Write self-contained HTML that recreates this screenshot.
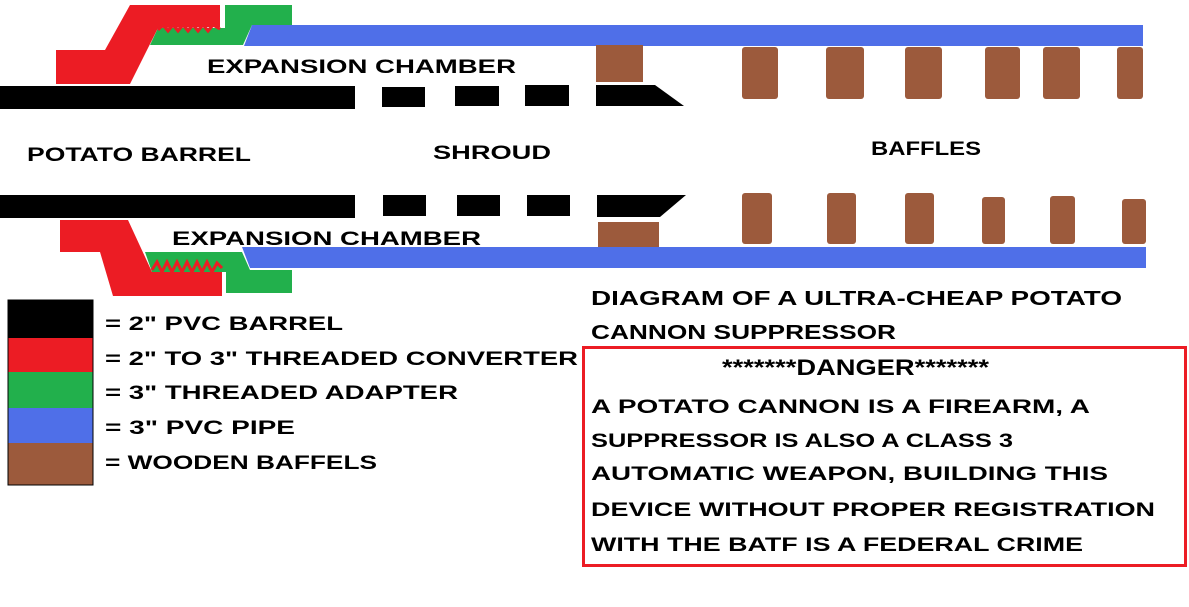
<!DOCTYPE html>
<html><head><style>
html,body{margin:0;padding:0;background:#fff;}
svg text{font-family:"Liberation Sans",sans-serif;font-weight:bold;text-transform:uppercase;fill:#000;}
</style></head><body>
<svg width="1189" height="602" viewBox="0 0 1189 602" xmlns="http://www.w3.org/2000/svg">
<!-- top assembly -->
<polygon points="252,25 1143,25 1143,46 244,46" fill="#4f6fe8"/>
<polygon points="225,5 292,5 292,25 252,25 243,45 150,45 158,28 225,28" fill="#22b04c"/>
<polygon points="56,50 105,50 130,5 220,5 220,27 158,28 130,84 56,84" fill="#ec1c24"/>
<polyline points="158,30 163,25 168,31 173,25 178,31 183,25 188,31 193,25 198,31 203,25 208,31 213,25 220,29" fill="none" stroke="#ec1c24" stroke-width="3"/>
<rect x="596" y="45" width="47" height="37" fill="#9c5a3c"/>
<rect x="742" y="47" width="36" height="52" rx="3" fill="#9c5a3c"/>
<rect x="826" y="47" width="38" height="52" rx="3" fill="#9c5a3c"/>
<rect x="905" y="47" width="37" height="52" rx="3" fill="#9c5a3c"/>
<rect x="985" y="47" width="35" height="52" rx="3" fill="#9c5a3c"/>
<rect x="1043" y="47" width="37" height="52" rx="3" fill="#9c5a3c"/>
<rect x="1117" y="47" width="26" height="52" rx="3" fill="#9c5a3c"/>
<rect x="0" y="86" width="355" height="23" fill="#000"/>
<rect x="382" y="87" width="43" height="20" fill="#000"/>
<rect x="455" y="86" width="44" height="20" fill="#000"/>
<rect x="525" y="85" width="44" height="21" fill="#000"/>
<polygon points="596,85 655,85 684,106 596,106" fill="#000"/>
<!-- bottom assembly -->
<rect x="0" y="195" width="355" height="23" fill="#000"/>
<rect x="383" y="195" width="43" height="21" fill="#000"/>
<rect x="457" y="195" width="43" height="21" fill="#000"/>
<rect x="527" y="195" width="43" height="21" fill="#000"/>
<polygon points="597,195 686,195 660,217 597,217" fill="#000"/>
<rect x="598" y="222" width="61" height="25" fill="#9c5a3c"/>
<rect x="742" y="193" width="30" height="51" rx="3" fill="#9c5a3c"/>
<rect x="827" y="193" width="29" height="51" rx="3" fill="#9c5a3c"/>
<rect x="905" y="193" width="29" height="51" rx="3" fill="#9c5a3c"/>
<rect x="982" y="197" width="23" height="47" rx="3" fill="#9c5a3c"/>
<rect x="1050" y="196" width="25" height="48" rx="3" fill="#9c5a3c"/>
<rect x="1122" y="199" width="24" height="45" rx="3" fill="#9c5a3c"/>
<polygon points="242,247 1146,247 1146,268 250,268" fill="#4f6fe8"/>
<polygon points="145,252 242,252 250,270 292,270 292,293 226,293 226,272 152,272" fill="#22b04c"/>
<polygon points="60,220 128,220 152,272 222,272 222,296 113,296 100,252 60,252" fill="#ec1c24"/>
<polyline points="152,270 157,262 162,272 167,262 172,272 177,262 182,272 187,262 192,272 197,262 202,272 207,262 212,272 217,263 222,268" fill="none" stroke="#ec1c24" stroke-width="3"/>
<!-- labels -->
<text x="207" y="73" font-size="19" textLength="309" lengthAdjust="spacingAndGlyphs">Expansion chamber</text>
<text x="27" y="161" font-size="19" textLength="224" lengthAdjust="spacingAndGlyphs">Potato Barrel</text>
<text x="433" y="159" font-size="19" textLength="118" lengthAdjust="spacingAndGlyphs">Shroud</text>
<text x="871" y="155" font-size="19" textLength="110" lengthAdjust="spacingAndGlyphs">Baffles</text>
<text x="172" y="245" font-size="19" textLength="309" lengthAdjust="spacingAndGlyphs">Expansion chamber</text>
<!-- legend -->
<rect x="8" y="300" width="85" height="38" fill="#000"/>
<rect x="8" y="338" width="85" height="34" fill="#ec1c24"/>
<rect x="8" y="372" width="85" height="36" fill="#22b04c"/>
<rect x="8" y="408" width="85" height="35" fill="#4f6fe8"/>
<rect x="8" y="443" width="85" height="42" fill="#9c5a3c"/>
<rect x="8" y="300" width="85" height="185" fill="none" stroke="#000" stroke-width="1"/>
<text x="105" y="330" font-size="19" textLength="238" lengthAdjust="spacingAndGlyphs">= 2" PVC Barrel</text>
<text x="105" y="365" font-size="19" textLength="473" lengthAdjust="spacingAndGlyphs">= 2" to 3" threaded Converter</text>
<text x="105" y="399" font-size="19" textLength="353" lengthAdjust="spacingAndGlyphs">= 3" threaded adapter</text>
<text x="105" y="434" font-size="19" textLength="190" lengthAdjust="spacingAndGlyphs">= 3" Pvc Pipe</text>
<text x="105" y="469" font-size="19" textLength="272" lengthAdjust="spacingAndGlyphs">= wooden Baffels</text>
<!-- title & warning -->
<text x="591" y="305" font-size="20" textLength="531" lengthAdjust="spacingAndGlyphs">Diagram of a ultra-Cheap Potato</text>
<text x="591" y="339" font-size="20" textLength="305" lengthAdjust="spacingAndGlyphs">Cannon Suppressor</text>
<rect x="583.5" y="347.5" width="602" height="218" fill="none" stroke="#ec1c24" stroke-width="3"/>
<text x="722" y="375" font-size="22" textLength="267" lengthAdjust="spacingAndGlyphs">*******DANGER*******</text>
<text x="591" y="413" font-size="19" textLength="499" lengthAdjust="spacingAndGlyphs">a potato cannon is a firearm, a</text>
<text x="591" y="447" font-size="19" textLength="422" lengthAdjust="spacingAndGlyphs">suppressor is also a class 3</text>
<text x="591" y="480" font-size="19" textLength="517" lengthAdjust="spacingAndGlyphs">automatic weapon, building this</text>
<text x="591" y="516" font-size="19" textLength="564" lengthAdjust="spacingAndGlyphs">device without proper registration</text>
<text x="591" y="551" font-size="19" textLength="492" lengthAdjust="spacingAndGlyphs">with the batf is a federal crime</text>
</svg>
</body></html>
